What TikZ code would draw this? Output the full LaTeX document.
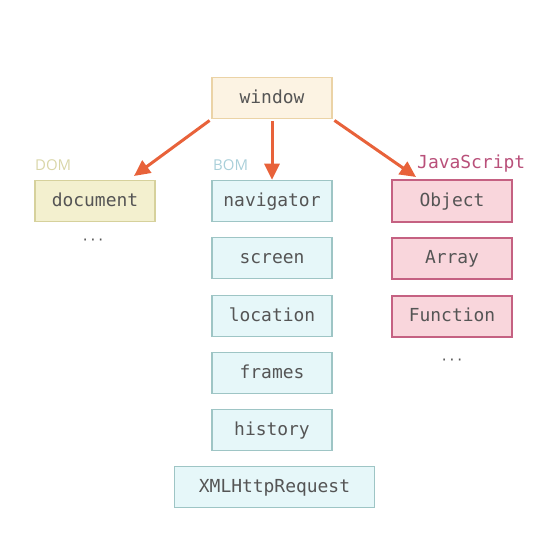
\documentclass[tikz,border=0pt]{standalone}
\usepackage{fontspec}
\setmonofont{DejaVu Sans Mono}
\newfontfamily\labfont{Open Sans}
\usetikzlibrary{arrows.meta}
\definecolor{txt}{HTML}{555555}
\definecolor{winfill}{HTML}{FCF3E3}
\definecolor{windraw}{HTML}{EBD3A6}
\definecolor{domfill}{HTML}{F3F0CF}
\definecolor{domdraw}{HTML}{D6D19C}
\definecolor{bomfill}{HTML}{E6F7F9}
\definecolor{bomdraw}{HTML}{9EC5C5}
\definecolor{jsfill}{HTML}{F9D6DC}
\definecolor{jsdraw}{HTML}{C56182}
\definecolor{arr}{HTML}{E8623A}
\definecolor{domlab}{HTML}{D9D6A8}
\definecolor{bomlab}{HTML}{A9CFD9}
\definecolor{jslab}{HTML}{B9507A}
\tikzset{
  box/.style={draw, line width=1.6bp, minimum width=120bp, minimum height=41bp, inner sep=0pt,
    text height=15bp, text depth=4bp,
    font=\ttfamily\fontsize{18}{20}\selectfont, text=txt},
  winbox/.style={box, fill=winfill, draw=windraw},
  dombox/.style={box, fill=domfill, draw=domdraw},
  bombox/.style={box, fill=bomfill, draw=bomdraw},
  jsbox/.style={box, fill=jsfill, draw=jsdraw, line width=2bp},
  grp/.style={anchor=west, inner sep=0pt},
  dots/.style={inner sep=0pt, text=txt, font=\ttfamily\fontsize{13}{15}\selectfont},
  link/.style={draw=arr, line width=3bp, -{Triangle[length=16bp,width=15bp]}, shorten <=2bp},
}
\begin{document}
\begin{tikzpicture}[x=1bp,y=-1bp]
\useasboundingbox (0,0) rectangle (560,548);
\node[winbox] (win) at (272,98) {window};
\node[dombox] (doc) at (95,201) {document};
\node[dots] (d1) at (93,242) {···};
\node[bombox] (nav) at (272,201) {navigator};
\node[bombox] (scr) at (272,258) {screen};
\node[bombox] (loc) at (272,316) {location};
\node[bombox] (frm) at (272,373) {frames};
\node[bombox] (his) at (272,430) {history};
\node[bombox, minimum width=200bp] (xhr) at (274.5,487) {XMLHttpRequest};
\node[jsbox] (obj) at (452,201) {Object};
\node[jsbox] (arrn) at (452,258) {Array};
\node[jsbox] (fun) at (452,316) {Function};
\node[dots] (d2) at (452,362) {···};
\node[grp, text=domlab, font=\labfont\fontsize{15}{17}\selectfont] (domL) at (35,165) {DOM};
\node[grp, text=bomlab, font=\labfont\fontsize{15}{17}\selectfont] (bomL) at (213,165) {BOM};
\node[grp, text=jslab, font=\ttfamily\fontsize{18}{20}\selectfont] (jsL) at (417,164) {JavaScript};
\coordinate (e1) at (134,176);
\coordinate (e3) at (416,177);
\draw[link] (win.south west) -- (e1);
\draw[link] (win.south) -- (nav.north);
\draw[link] (win.south east) -- (e3);
\end{tikzpicture}
\end{document}
